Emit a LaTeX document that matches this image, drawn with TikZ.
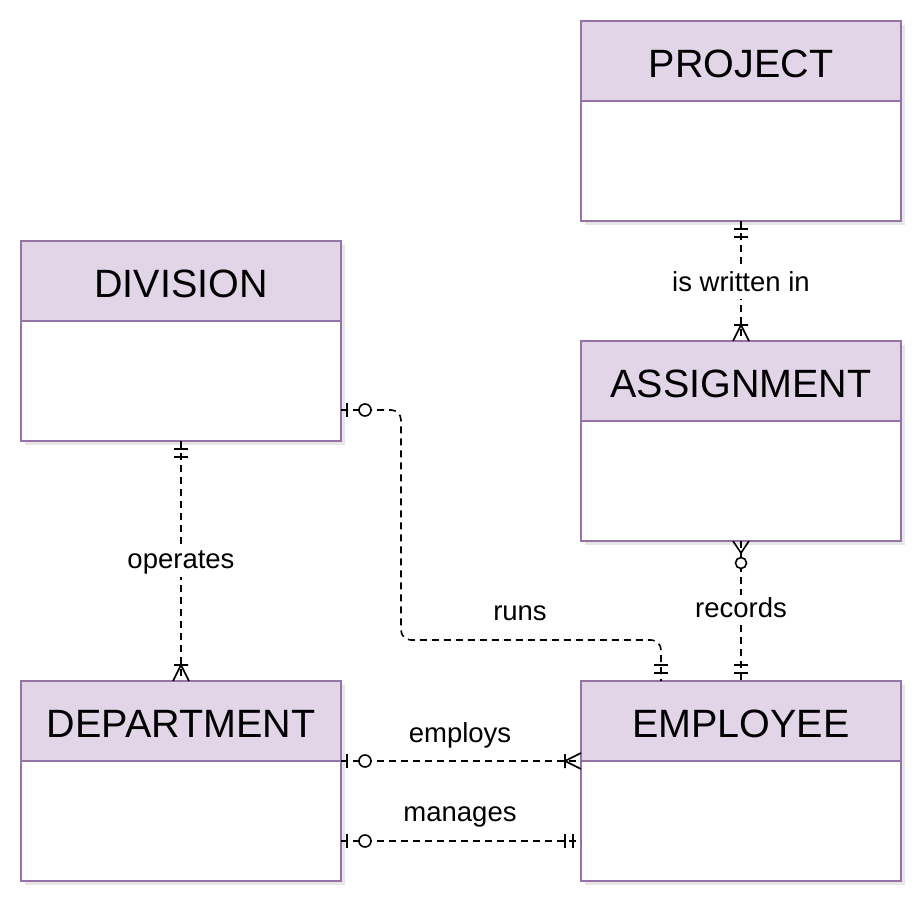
\documentclass[tikz,border=0pt]{standalone}
\usepackage{fontspec}
\setmainfont{Liberation Sans}
\usetikzlibrary{positioning,fit,backgrounds,shadows}
\definecolor{headfill}{HTML}{E1D5E7}
\definecolor{headline}{HTML}{9673A6}
\newcommand{\entity}[3]{%
  \node[entity head] (#1-head) at (#2) {#3};
  \node[entity body, below=0pt of #1-head] (#1-body) {};
  \begin{pgfonlayer}{background}
    \node[entity shadow, fit=(#1-head)(#1-body)] {};
  \end{pgfonlayer}}

\begin{document}
\begin{tikzpicture}[x=1pt, y=-1pt]
  \tikzset{
    entity head/.style={draw=headline, fill=headfill, line width=1.5pt,
      minimum width=320pt, minimum height=80pt, inner sep=0pt, outer sep=0pt,
      text height=33pt, text depth=0pt, font=\fontsize{39.5}{47}\selectfont},
    entity body/.style={draw=headline, fill=white, line width=1.5pt,
      minimum width=320pt, minimum height=120pt, inner sep=0pt, outer sep=0pt},
    entity shadow/.style={fill=white, inner sep=0pt,
      drop shadow={opacity=0.2, shadow xshift=4pt, shadow yshift=-4pt}},
    relline/.style={draw=black, line width=1.6pt, dash pattern=on 7pt off 5pt},
    relname/.style={font=\fontsize{27.5}{33}\selectfont, inner sep=1pt,
      text height=21pt, text depth=7pt},
    erline/.style={solid, line width=1.6pt, draw=black},
    mandone/.pic={\draw[erline] (8,-7) -- (8,7) (16,-7) -- (16,7);},
    zeroone/.pic={\draw[erline] (6,-7) -- (6,7);
      \draw[erline, fill=white] (24,0) circle[radius=6];},
    onemany/.pic={\draw[erline] (16,-7) -- (16,7) (16,0) -- (0,-8) (16,0) -- (0,8);},
    zeromany/.pic={\draw[erline] (12,0) -- (0,-8) (12,0) -- (0,8);
      \draw[erline, fill=white] (22,0) circle[radius=5.5];}
  }
  \useasboundingbox (0,0) rectangle (918,902);

  \entity{project}{741,61}{PROJECT}
  \entity{division}{181,281}{DIVISION}
  \entity{assignment}{741,381}{ASSIGNMENT}
  \entity{department}{181,721}{DEPARTMENT}
  \entity{employee}{741,721}{EMPLOYEE}

  % relationships
  \coordinate (runs-bend) at (401,640);
  \coordinate (runs-end) at ([xshift=-80pt]employee-head.north);
  \coordinate (runs-start) at ([yshift=-29pt]division-body.east);
  \draw[relline] (project-body.south) -- node[relname, fill=white, pos=0.525] (is-written-in) {is written in} (assignment-head.north);
  \draw[relline] (division-body.south) -- node[relname, fill=white, pos=0.504] (operates) {operates} (department-head.north);
  \draw[relline, rounded corners=10pt] (runs-start) -| (runs-bend) -| (runs-end);
  \node[relname] (runs) at (520,613) {runs};
  \draw[relline] (assignment-body.south) -- node[relname, fill=white, pos=0.495] (records) {records} (employee-head.north);
  \draw[relline] (department-head.south east) -- (employee-head.south west);
  \node[relname] (employs) at (460,735) {employs};
  \coordinate (manages-start) at ([yshift=-20pt]department-body.east);
  \coordinate (manages-end) at ([yshift=-20pt]employee-body.west);
  \draw[relline] (manages-start) -- (manages-end);
  \node[relname] (manages) at (460,814) {manages};

  % cardinalities
  \pic[rotate=-90] at (project-body.south) {mandone};
  \pic[rotate=90] at (assignment-head.north) {onemany};
  \pic[rotate=-90] at (division-body.south) {mandone};
  \pic[rotate=90] at (department-head.north) {onemany};
  \pic at (runs-start) {zeroone};
  \pic[rotate=90] at (runs-end) {mandone};
  \pic[rotate=-90] at (assignment-body.south) {zeromany};
  \pic[rotate=90] at (employee-head.north) {mandone};
  \pic at (department-head.south east) {zeroone};
  \pic[rotate=180] at (employee-head.south west) {onemany};
  \pic at (manages-start) {zeroone};
  \pic[rotate=180] at (manages-end) {mandone};
\end{tikzpicture}
\end{document}
